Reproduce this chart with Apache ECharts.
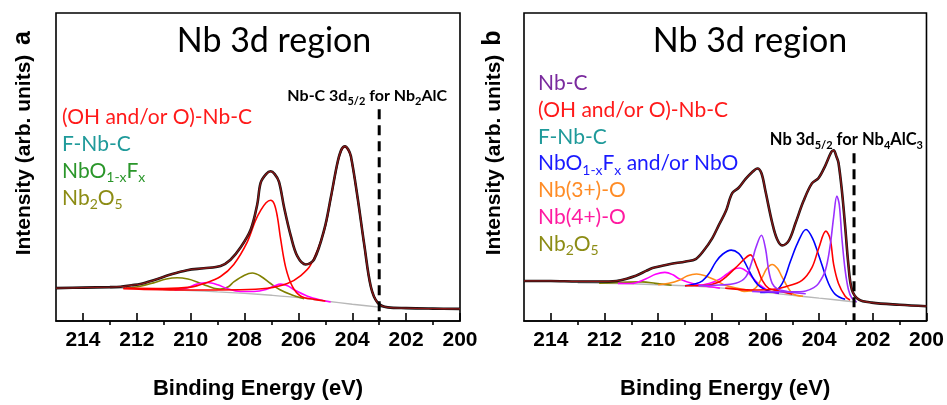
<!DOCTYPE html>
<html>
<head>
<meta charset="utf-8">
<script src="https://cdn.jsdelivr.net/npm/echarts@6/dist/echarts.min.js"></script>
<style>
  html, body { margin: 0; padding: 0; background: #fff; }
  #chart { width: 947px; height: 405px; }
</style>
</head>
<body>
<div id="chart"></div>
<script>
// ---- axis ticks (binding energy, eV) ----
const majorTicks = [200, 202, 204, 206, 208, 210, 212, 214];
const minorTicks = [201, 203, 205, 207, 209, 211, 213];

// ---- panel a: Nb 3d region of the Nb2AlC-derived sample ----  [BE, intensity]
const envA = [[215,34.5],[214,35],[213,35.5],[212.6,36],[212.2,37.5],[211.87,38.7],[211.38,42.7],[210.75,48.7],[210.13,53.3],[209.51,55.3],[208.89,57.7],[208.52,64.3],[208.15,77],[207.77,96],[207.53,122],[207.4,145],[207.2,154],[207.03,157],[206.88,154],[206.72,146],[206.53,119],[206.28,89],[206.04,68],[205.73,59.3],[205.42,64.3],[205.04,96],[204.8,129],[204.55,166],[204.4,180],[204.27,183.3],[204.15,180],[204.05,172.7],[203.8,129],[203.55,79],[203.31,36],[203.06,19.3],[202.68,14.3],[202,13.5],[201,13],[200,12.7]];
const bgA = [[213,34.5],[212,34],[211,33],[210,32],[209,30.5],[208,29],[207,27],[206,24.5],[205,21],[204,17.5],[203,14.5],[202.7,14]];
const ohNbC_A1 = [[212.5,34.5],[211,34],[210,35.5],[209.5,39.3],[208.89,46.7],[208.4,59.3],[207.9,82.7],[207.6,105],[207.4,116],[207.2,124],[207.03,126.7],[206.9,123],[206.78,109.3],[206.66,86],[206.47,56],[206.22,36],[205.91,26],[205.42,22.7],[205,21]];
const ohNbC_A2 = [[212.5,34],[210,32.5],[208.15,32.7],[207.15,34.3],[206.41,39.3],[205.91,47.7],[205.54,59],[205.04,95],[204.8,128],[204.55,165],[204.4,179],[204.27,182.5],[204.15,179],[204.05,172],[203.8,128.5],[203.55,78.5],[203.31,35.5],[203.06,19],[202.8,15]];
const nb4A = [[210.6,32.5],[210.2,34],[209.76,38.7],[209.39,40.3],[209,38],[208.6,33.5],[208.15,31],[207.65,31],[207.2,33],[206.9,36.7],[206.66,38.7],[206.4,37],[206.16,32.7],[205.66,26],[205.17,22],[204.8,20]];
const nb2o5A = [[212.4,34.5],[211.87,36.5],[211.38,40],[210.9,44],[210.5,45.3],[210.1,44],[209.76,41],[209.4,37],[209.14,34.3],[208.9,33.5],[208.6,36],[208.4,41],[208,48],[207.71,50.3],[207.4,47],[207.03,39.3],[206.7,33],[206.28,27.7],[205.79,23.3]];
const dashA = [[203,222],[203,0]];

// ---- panel b: Nb 3d region of the Nb4AlC3-derived sample ----
const envB = [[215,42],[214,42],[213,41.5],[212,41.5],[211.45,42.5],[210.83,47.5],[210.45,52.5],[210.21,55.5],[209.59,59.5],[208.97,62.5],[208.6,65],[208.3,74],[207.98,87],[207.73,101],[207.48,115],[207.24,134],[206.99,140],[206.74,149],[206.5,156],[206.3,160],[206.15,155],[206,136],[205.75,103],[205.57,86],[205.38,79.3],[205.13,84.3],[204.88,102.7],[204.58,126],[204.27,144.3],[204.02,150],[203.77,163],[203.55,177],[203.46,179],[203.35,172],[203.28,166],[203.15,136],[203.03,99],[202.91,59],[202.78,33],[202.53,22.7],[202.04,19.3],[201,17],[200,15.5]];
const bgB = [[213,40],[212,39.5],[211,39],[210,38],[209,37],[208,35.5],[207,33],[206,30],[205,27],[204,24],[203,21],[202.6,19.5]];
const nbC_B1 = [[208.5,37],[207.73,37.7],[207.11,39.5],[206.74,46],[206.5,63],[206.37,76],[206.15,90],[206,76],[205.88,53],[205.75,39.5],[205.57,34],[205.2,31],[204.5,28.5]];
const nbC_B2 = [[206.5,31],[205.5,30.5],[205,30.5],[204.5,31.5],[204.2,35],[204.02,39.5],[203.77,53],[203.59,79],[203.46,109],[203.34,131],[203.25,122],[203.15,86],[203.03,53],[202.91,33],[202.78,24],[202.6,20]];
const ohNbC_B1 = [[209,37],[208.2,37.5],[207.73,41],[207.48,46],[206.99,59.3],[206.75,66],[206.56,69.3],[206.31,56],[206.12,42.7],[205.88,34.3],[205.57,32],[205,28]];
const ohNbC_B2 = [[207.5,34.5],[206.5,32.5],[205.8,33],[205.25,36],[204.64,42.7],[204.27,56],[204.02,76],[203.75,94.3],[203.59,86],[203.46,59.3],[203.28,39.3],[203.03,26],[202.85,22]];
const nbof_B1 = [[209,37],[208.6,39],[208.35,42],[208.1,50],[207.85,62],[207.6,70],[207.28,74.3],[207,71],[206.8,63],[206.6,52],[206.4,42],[206.2,36],[205.9,31.5],[205.5,29.5]];
const nbof_B2 = [[206.2,30],[205.7,31],[205.38,39.3],[205.07,62.7],[204.8,82],[204.49,96],[204.25,87],[204.02,69.3],[203.65,39.3],[203.4,28],[203.03,22.7]];
const nb3_B1 = [[210,38],[209.6,39.5],[209.22,42.7],[208.9,47.5],[208.57,49.3],[208.25,47.5],[207.86,42.7],[207.5,37.5],[207,34],[206.5,31.5]];
const nb3_B2 = [[207,33],[206.8,31],[206.4,34],[206.12,46],[205.95,55],[205.75,59.3],[205.55,55],[205.38,46],[205,29],[204.6,26]];
const nb4_B1 = [[211.5,39.5],[211,39.3],[210.45,44.3],[210.1,49],[209.75,51],[209.45,48.5],[209.22,44.3],[208.72,39.3],[208.2,36.5],[207.7,34.5]];
const nb4_B2 = [[208.6,37],[208.1,39.3],[207.73,43.5],[207.45,49],[207.2,54],[206.96,55.6],[206.7,52],[206.5,46],[206.3,40],[206.12,36],[205.88,31.5],[205.5,29]];
const nb2o5B = [[212.2,39.6],[211.6,40.2],[211.1,40.8],[210.6,41],[210.1,39.5],[209.5,37.5]];
const dashB = [[202.7,176],[202.7,0]];

// ---- text ----
const titleText = 'Nb 3d region';
const legendA = [
  ['(OH and/or O)-Nb-C', '#ff1a1a'],
  ['F-Nb-C', '#1f9a9a'],
  ['NbO{s|1-x}F{s|x}', '#2a962a'],
  ['Nb{s|2}O{s|5}', '#8c8c14']
];
const legendB = [
  ['Nb-C', '#7a2a9e'],
  ['(OH and/or O)-Nb-C', '#ff1a1a'],
  ['F-Nb-C', '#1f9a9a'],
  ['NbO{s|1-x}F{s|x} and/or NbO', '#1a1aff'],
  ['Nb(3+)-O', '#ff8c26'],
  ['Nb(4+)-O', '#ff1aa0'],
  ['Nb{s|2}O{s|5}', '#8c8c14']
];
const noteA = 'Nb-C 3d{s|5/2} for Nb{s|2}AlC';
const noteB = 'Nb 3d{s|5/2} for Nb{s|4}AlC{s|3}';
const yName = 'Intensity (arb. units)';
const xName = 'Binding Energy (eV)';

const UI = 'Lato, "Open Sans", sans-serif';
const ARIAL = '"Liberation Sans", Arial, sans-serif';

function rich(color, size, weight) {
  const sub = Math.round(size * 0.66);
  return {
    n: { fontSize: size, fill: color, fontFamily: UI, fontWeight: weight, lineHeight: Math.round(size * 1.3) },
    s: { fontSize: sub, fill: color, fontFamily: UI, fontWeight: weight, lineHeight: sub, verticalAlign: 'bottom' }
  };
}
function wrap(t) {
  // wrap plain runs in the "n" style, keep {s|...} runs as subscripts
  return t.split(/(\{s\|[^}]*\})/).filter(Boolean)
    .map(p => p.startsWith('{s|') ? p : '{n|' + p + '}').join('');
}
function label(x, y, text, color, size, weight, align) {
  return {
    type: 'text', x: x, y: y, z: 100,
    style: {
      text: wrap(text), rich: rich(color, size, weight), fill: color,
      textAlign: align || 'left', textVerticalAlign: 'middle'
    }
  };
}

const graphics = [];
[[56, 460], [524, 928]].forEach(([l, r], i) => {
  graphics.push(label((l + r) / 2 + (i ? 24 : 16), 41, titleText, '#000', 34, 'normal', 'center'));
});
legendA.forEach(([t, c], i) => graphics.push(label(62, 117 + i * 27, t, c, 21, 'normal')));
legendB.forEach(([t, c], i) => graphics.push(label(538, 83 + i * 26.9, t, c, 21, 'normal')));
graphics.push(label(447, 96, noteA, '#000', 16, 'bold', 'right'));
graphics.push(label(923, 140, noteB, '#000', 16.5, 'bold', 'right'));
[[24, 'a'], [494, 'b']].forEach(([x, letter]) => {
  graphics.push({ type: 'text', x: x, y: 155, rotation: Math.PI / 2,
    style: { text: yName, font: 'bold 21px ' + ARIAL, fill: '#000', textAlign: 'center', textVerticalAlign: 'middle' } });
  graphics.push({ type: 'text', x: x - 1, y: 38, rotation: Math.PI / 2,
    style: { text: letter, font: 'bold 25px ' + ARIAL, fill: '#000', textAlign: 'center', textVerticalAlign: 'middle' } });
});

const grids = [
  { left: 56, top: 13, width: 404, height: 323 },
  { left: 524, top: 13, width: 404, height: 323 }
].map(g => Object.assign(g, { show: true, borderColor: '#000', borderWidth: 1.6, backgroundColor: 'transparent' }));

function xAxes(gi) {
  const common = { gridIndex: gi, type: 'value', min: 200, max: 215, inverse: true, splitLine: { show: false } };
  return [
    Object.assign({}, common, {
      axisLine: { show: true, onZero: false, lineStyle: { color: '#000', width: 1.6 } },
      axisTick: { show: true, inside: true, length: 8, customValues: majorTicks, lineStyle: { color: '#000', width: 1.6 } },
      axisLabel: { show: true, customValues: majorTicks, margin: 9, color: '#000', fontSize: 21, fontWeight: 'bold', fontFamily: ARIAL },
      name: xName, nameLocation: 'middle', nameGap: 57,
      nameTextStyle: { color: '#000', fontSize: 22, fontWeight: 'bold', fontFamily: ARIAL }
    }),
    Object.assign({}, common, {
      axisLine: { show: false },
      axisTick: { show: true, inside: true, length: 4, customValues: minorTicks, lineStyle: { color: '#000', width: 1.6 } },
      axisLabel: { show: false }
    })
  ];
}

function line(xi, data, color, width, z) {
  return { type: 'line', xAxisIndex: xi, yAxisIndex: xi >= 2 ? 1 : 0, data: data, smooth: 0.35,
    symbol: 'none', silent: true, z: z || 2, lineStyle: { color: color, width: width || 1.6 } };
}
function envelope(xi, data) {
  return [line(xi, data, '#111', 2.6, 5), line(xi, data, '#8a1616', 1.3, 6)];
}
function dashed(xi, data) {
  return { type: 'line', xAxisIndex: xi, yAxisIndex: xi >= 2 ? 1 : 0, data: data, symbol: 'none', silent: true, z: 7,
    lineStyle: { color: '#000', width: 3, type: [10, 6] } };
}

const RED = '#ff0000', OLIVE = '#808000', MAG = '#ff00ff', GRAY = '#b8b8b8',
      VIOLET = '#9b30ff', BLUE = '#0000ff', ORANGE = '#ff8c1a';

const series = [
  line(0, bgA, GRAY, 1.4, 1),
  line(0, nb2o5A, OLIVE), line(0, nb4A, MAG), line(0, ohNbC_A1, RED), line(0, ohNbC_A2, RED),
  ...envelope(0, envA), dashed(0, dashA),
  line(2, bgB, GRAY, 1.4, 1),
  line(2, nb2o5B, OLIVE), line(2, nb4_B1, MAG), line(2, nb4_B2, MAG),
  line(2, nb3_B1, ORANGE), line(2, nb3_B2, ORANGE),
  line(2, nbof_B1, BLUE), line(2, nbof_B2, BLUE),
  line(2, ohNbC_B1, RED), line(2, ohNbC_B2, RED),
  line(2, nbC_B1, VIOLET), line(2, nbC_B2, VIOLET),
  ...envelope(2, envB), dashed(2, dashB)
];

const chart = echarts.init(document.getElementById('chart'), null, { renderer: 'canvas' });
chart.setOption({
  animation: false,
  backgroundColor: '#fff',
  grid: grids,
  xAxis: [...xAxes(0), ...xAxes(1)],
  yAxis: [0, 1].map(gi => ({ gridIndex: gi, type: 'value', min: 0, max: 323, show: false })),
  graphic: graphics,
  series: series
});
</script>
</body>
</html>
